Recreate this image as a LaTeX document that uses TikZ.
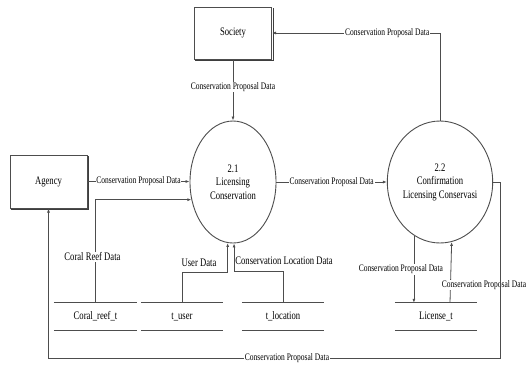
\documentclass[tikz,border=0pt]{standalone}
\usepackage{fontspec}
\setmainfont{Liberation Serif}
\usepackage{graphicx}
\usetikzlibrary{arrows.meta,shapes.geometric,calc}
\definecolor{lc}{HTML}{4D4D4D}
\newcommand\cz[1]{\scalebox{0.75}[1]{#1}}
\begin{document}
\begin{tikzpicture}[x=1pt,y=-1pt,
  ln/.style={draw=lc, line width=0.8pt},
  arr/.style={ln, -{Latex[length=4pt,width=3pt]}},
  ent/.style={draw=lc, line width=1pt, rectangle, minimum width=77pt, minimum height=52pt, inner sep=0pt, font=\fontsize{11.5}{13}\selectfont},
  proc/.style={draw=lc, line width=0.9pt, ellipse, minimum width=86pt, minimum height=122pt, inner sep=0pt, align=center, font=\fontsize{11.5}{13.5}\selectfont},
  store/.style={minimum width=82pt, minimum height=27pt, inner sep=0pt, font=\fontsize{11.5}{13}\selectfont},
  lbl/.style={fill=white, inner sep=0.8pt, font=\fontsize{10}{11}\selectfont},
  blbl/.style={fill=white, inner sep=0.8pt, font=\fontsize{11.5}{13}\selectfont},
  shad/.style={draw=lc!80!black, line width=0.9pt}]

\useasboundingbox (0,0) rectangle (530,365);
\fill[white] (0,0) rectangle (530,365);

% entities and processes
\node[ent] (society) at (233,33) {\cz{Society}};
\node[ent, minimum height=53pt] (agency) at (48.5,181.5) {\cz{Agency}};
\foreach \b in {society,agency}{
  \draw[shad] ($(\b.south west)+(1,1)$) -- ($(\b.south east)+(1,1)$) -- ($(\b.north east)+(1,1)$);
}
\node[proc] (e1) at (233,182) {\cz{2.1}\\\cz{Licensing}\\\cz{Conservation}};
\node[proc] (e2) at (440,182) {\cz{2.2}\\\cz{Confirmation}\\\cz{Licensing Conservasi}};

% data stores
\node[store, minimum width=83pt] (coral) at (95.5,316.5) {\cz{Coral\_reef\_t}};
\node[store] (tuser) at (182,316.5) {\cz{t\_user}};
\node[store] (tloc) at (283,316.5) {\cz{t\_location}};
\node[store] (lic) at (436,316.5) {\cz{License\_t}};
\foreach \s in {coral,tuser,tloc,lic}{
  \draw[ln] (\s.north west) -- (\s.north east);
  \draw[ln] (\s.south west) -- (\s.south east);
}

% flows
\draw[arr] (society.south) -- node[lbl,pos=0.45]{\cz{Conservation Proposal Data}} (e1.north);
\draw[arr] (e2.north) |- node[lbl,pos=0.657]{\cz{Conservation Proposal Data}} (society.east);
\draw[arr] (agency.east) -- node[lbl]{\cz{Conservation Proposal Data}} (e1.west |- agency.east);
\draw[arr] (coral.north) |- node[blbl,pos=0.223,xshift=-3pt]{\cz{Coral Reef Data}} (e1.203.6);
\draw[arr] (tuser.north) -- (tuser.north |- 0,272) -| (e1.265.3);
\node[blbl, fill=none] (ulbl) at (199,263) {\cz{User Data}};
\draw[arr] (tloc.north) -- (tloc.north |- 0,271) -| (e1.271);
\node[blbl, fill=none] (llbl) at (284,261) {\cz{Conservation Location Data}};
\draw[arr] (e1.east) -- node[lbl]{\cz{Conservation Proposal Data}} (e2.west);
\draw[arr] (e2.244.6) -- node[lbl,xshift=-13pt]{\cz{Conservation Proposal Data}} (e2.244.6 |- lic.north);
\draw[arr] ($(lic.north)+(14,0)$) -- (e2.281.6);
\node[lbl] (uplbl) at (484,285) {\cz{Conservation Proposal Data}};
\coordinate (rc) at (500,358);
\draw[arr] (e2.east) -| (rc) -| (agency.south);
\node[lbl] (botlbl) at (287,358) {\cz{Conservation Proposal Data}};
\end{tikzpicture}
\end{document}
